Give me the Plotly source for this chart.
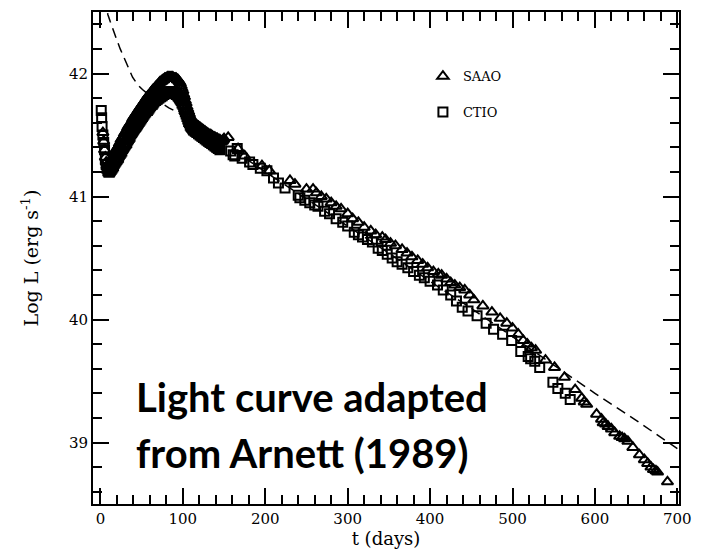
import plotly.graph_objects as go

# --- SAAO bolometric light curve (days since explosion, log L in erg/s)
# Nightly photometry around the maximum
saao_early_t = list(range(3, 151))
saao_early_logl = [
    41.52, 41.45, 41.38, 41.32, 41.28, 41.25, 41.24, 41.25,                 # 3-10
    41.26, 41.27, 41.29, 41.30, 41.32, 41.33, 41.35, 41.36, 41.38, 41.39,   # 11-20
    41.40, 41.41, 41.43, 41.44, 41.46, 41.47, 41.48, 41.49, 41.51, 41.52,   # 21-30
    41.53, 41.54, 41.56, 41.57, 41.58, 41.59, 41.60, 41.61, 41.63, 41.64,   # 31-40
    41.65, 41.66, 41.67, 41.68, 41.69, 41.70, 41.71, 41.72, 41.73, 41.74,   # 41-50
    41.75, 41.76, 41.77, 41.78, 41.79, 41.80, 41.81, 41.82, 41.82, 41.83,   # 51-60
    41.84, 41.85, 41.86, 41.87, 41.87, 41.88, 41.89, 41.90, 41.90, 41.91,   # 61-70
    41.92, 41.93, 41.93, 41.94, 41.94, 41.95, 41.95, 41.96, 41.96, 41.96,   # 71-80
    41.97, 41.97, 41.97, 41.97, 41.97, 41.97, 41.97, 41.97, 41.96, 41.96,   # 81-90
    41.96, 41.96, 41.95, 41.95, 41.94, 41.93, 41.92, 41.90, 41.88, 41.86,   # 91-100
    41.83, 41.81, 41.78, 41.76, 41.73, 41.71, 41.69, 41.67, 41.65, 41.63,   # 101-110
    41.62, 41.61, 41.60, 41.59, 41.59, 41.58, 41.58, 41.57, 41.57, 41.56,   # 111-120
    41.56, 41.55, 41.55, 41.54, 41.54, 41.53, 41.53, 41.52, 41.52, 41.51,   # 121-130
    41.51, 41.50, 41.50, 41.50, 41.49, 41.49, 41.48, 41.48, 41.48, 41.47,   # 131-140
    41.47, 41.47, 41.46, 41.46, 41.46, 41.45, 41.45, 41.45, 41.46, 41.47,   # 141-150
]
# Tail (radioactive decay phase)
saao_late_t = [155, 167, 175, 196, 205, 230, 236, 250, 258, 262, 268, 274, 280, 286,
               292, 300, 306, 313, 320, 328, 334, 342, 346, 352, 358, 366, 372, 378,
               385, 391, 397, 404, 410, 414, 420, 425, 430, 436, 442, 448, 453, 464,
               475, 485, 493, 500, 507, 513, 518, 523, 528, 540, 551, 563, 576, 584,
               587, 590, 602, 608, 610, 613, 616, 620, 624, 630, 633, 636, 640, 646,
               654, 660, 664, 668, 671, 674, 676, 688]
saao_late_logl = [41.48, 41.39, 41.33, 41.25, 41.21, 41.13, 41.10, 41.06, 41.06, 41.03,
                  41.00, 40.98, 40.95, 40.92, 40.90, 40.86, 40.82, 40.79, 40.75, 40.72,
                  40.69, 40.67, 40.65, 40.62, 40.60, 40.57, 40.54, 40.51, 40.48, 40.45,
                  40.42, 40.39, 40.37, 40.36, 40.33, 40.30, 40.28, 40.26, 40.24, 40.20,
                  40.16, 40.11, 40.06, 40.01, 39.97, 39.93, 39.88, 39.83, 39.80, 39.77,
                  39.75, 39.67, 39.61, 39.53, 39.43, 39.36, 39.33, 39.31, 39.23, 39.19,
                  39.16, 39.15, 39.13, 39.11, 39.08, 39.05, 39.04, 39.03, 39.01, 38.96,
                  38.90, 38.86, 38.83, 38.80, 38.78, 38.77, 38.76, 38.68]

# --- CTIO bolometric light curve
ctio_early_t = [1, 1.5, 2] + list(range(3, 146))
ctio_early_logl = [
    41.70, 41.64, 41.57,                                                    # 1-2
    41.50, 41.44, 41.38, 41.31, 41.26, 41.23, 41.21, 41.20,                 # 3-10
    41.20, 41.21, 41.22, 41.23, 41.24, 41.25, 41.27, 41.28, 41.29, 41.30,   # 11-20
    41.31, 41.32, 41.34, 41.35, 41.36, 41.37, 41.39, 41.40, 41.41, 41.42,   # 21-30
    41.43, 41.44, 41.46, 41.47, 41.48, 41.49, 41.51, 41.52, 41.53, 41.54,   # 31-40
    41.55, 41.56, 41.57, 41.58, 41.59, 41.60, 41.61, 41.62, 41.63, 41.64,   # 41-50
    41.65, 41.66, 41.67, 41.68, 41.69, 41.70, 41.70, 41.71, 41.72, 41.73,   # 51-60
    41.74, 41.75, 41.75, 41.76, 41.77, 41.78, 41.78, 41.79, 41.79, 41.80,   # 61-70
    41.80, 41.81, 41.81, 41.82, 41.82, 41.83, 41.83, 41.84, 41.84, 41.84,   # 71-80
    41.85, 41.85, 41.85, 41.85, 41.85, 41.85, 41.85, 41.85, 41.85, 41.84,   # 81-90
    41.84, 41.83, 41.83, 41.82, 41.81, 41.80, 41.79, 41.78, 41.76, 41.75,   # 91-100
    41.73, 41.71, 41.69, 41.67, 41.65, 41.63, 41.61, 41.60, 41.58, 41.57,   # 101-110
    41.56, 41.55, 41.54, 41.54, 41.53, 41.53, 41.52, 41.52, 41.51, 41.51,   # 111-120
    41.50, 41.50, 41.49, 41.49, 41.48, 41.48, 41.47, 41.47, 41.46, 41.46,   # 121-130
    41.45, 41.45, 41.44, 41.44, 41.43, 41.43, 41.42, 41.42, 41.41, 41.41,   # 131-140
    41.40, 41.40, 41.39, 41.39, 41.38,                                      # 141-145
]
ctio_late_t = [158, 161, 163, 166, 172, 181, 185, 194, 202, 210, 216, 224, 240, 242,
               248, 254, 260, 264, 272, 278, 286, 294, 300, 308, 313, 318, 324, 330,
               337, 342, 348, 354, 360, 366, 373, 380, 387, 393, 400, 409, 416, 425,
               432, 439, 446, 457, 468, 477, 488, 499, 510, 519, 522, 527, 533, 549,
               555, 564, 570]
ctio_late_logl = [41.37, 41.34, 41.33, 41.39, 41.31, 41.28, 41.26, 41.23, 41.21, 41.15,
                  41.11, 41.07, 41.01, 40.99, 40.97, 40.95, 40.93, 40.92, 40.88, 40.86,
                  40.82, 40.79, 40.76, 40.71, 40.69, 40.67, 40.65, 40.63, 40.58, 40.56,
                  40.53, 40.50, 40.47, 40.45, 40.42, 40.39, 40.36, 40.34, 40.31, 40.28,
                  40.24, 40.20, 40.15, 40.10, 40.07, 40.03, 39.97, 39.92, 39.88, 39.83,
                  39.74, 39.70, 39.68, 39.66, 39.61, 39.49, 39.44, 39.40, 39.35]

# --- Model light curve (dashed)
model_t = [6, 9, 12, 15, 19, 24, 29, 34, 39, 45, 51, 60, 71, 83, 95, 111, 130, 150,
           200, 250, 300, 350, 400, 450, 500, 552, 600, 650, 700]
model_logl = [42.62, 42.48, 42.42, 42.36, 42.29, 42.20, 42.12, 42.04, 41.97, 41.91,
              41.87, 41.82, 41.77, 41.72, 41.68, 41.61, 41.52, 41.43, 41.20, 40.98,
              40.76, 40.54, 40.31, 40.09, 39.86, 39.62, 39.40, 39.18, 38.95]

x_range = [-9, 702]
y_range = [38.5, 42.5]

SERIF = "DejaVu Serif"

fig = go.Figure()

fig.add_trace(go.Scatter(
    x=model_t, y=model_logl, mode="lines",
    line=dict(color="black", width=1.5, dash="10px,6px"),
    showlegend=False, hoverinfo="skip",
))

fig.add_trace(go.Scatter(
    x=saao_early_t + saao_late_t, y=saao_early_logl + saao_late_logl,
    mode="markers", name="SAAO", legendgroup="a",
    marker=dict(symbol="triangle-up-open", size=10, color="black",
                line=dict(width=2, color="black")),
))

fig.add_trace(go.Scatter(
    x=ctio_early_t + ctio_late_t, y=ctio_early_logl + ctio_late_logl,
    mode="markers", name="CTIO", legendgroup="b",
    marker=dict(symbol="square-open", size=9, color="black",
                line=dict(width=2, color="black")),
))

axis_common = dict(
    showline=True, linecolor="black", linewidth=2, mirror="allticks",
    ticks="inside", ticklen=16, tickwidth=1.6, tickcolor="black",
    showgrid=False, zeroline=False,
    tickfont=dict(family=SERIF, size=15, color="black"),
)

fig.update_xaxes(
    range=x_range, tick0=0, dtick=100,
    minor=dict(ticks="inside", ticklen=9, tickwidth=1.6, tickcolor="black",
               dtick=20, tick0=0, showgrid=False),
    title=dict(text="t (days)", font=dict(family=SERIF, size=18, color="black"),
               standoff=0),
    **axis_common,
)
fig.update_yaxes(
    range=y_range, tick0=39, dtick=1,
    minor=dict(ticks="inside", ticklen=9, tickwidth=1.6, tickcolor="black",
               dtick=0.2, tick0=39, showgrid=False),
    title=dict(text="Log L (erg s<sup>-1</sup>)",
               font=dict(family=SERIF, size=19, color="black"), standoff=25),
    **axis_common,
)

fig.add_annotation(
    text="<b>Light curve adapted</b>", xref="paper", yref="paper",
    x=0.07, y=0.165, xanchor="left", yanchor="bottom", showarrow=False,
    font=dict(family="Lato", size=40, color="black"),
)
fig.add_annotation(
    text="<b>from Arnett (1989)</b>", xref="paper", yref="paper",
    x=0.07, y=0.05, xanchor="left", yanchor="bottom", showarrow=False,
    font=dict(family="Lato", size=40, color="black"),
)

fig.update_layout(
    width=702, height=551,
    margin=dict(l=93, r=14, t=10, b=46),
    paper_bgcolor="white", plot_bgcolor="white",
    legend=dict(x=0.563, y=0.9, xanchor="left", yanchor="top",
                bgcolor="rgba(0,0,0,0)", tracegroupgap=16,
                font=dict(family=SERIF, size=13, color="black")),
)

fig.write_html("out.html")
